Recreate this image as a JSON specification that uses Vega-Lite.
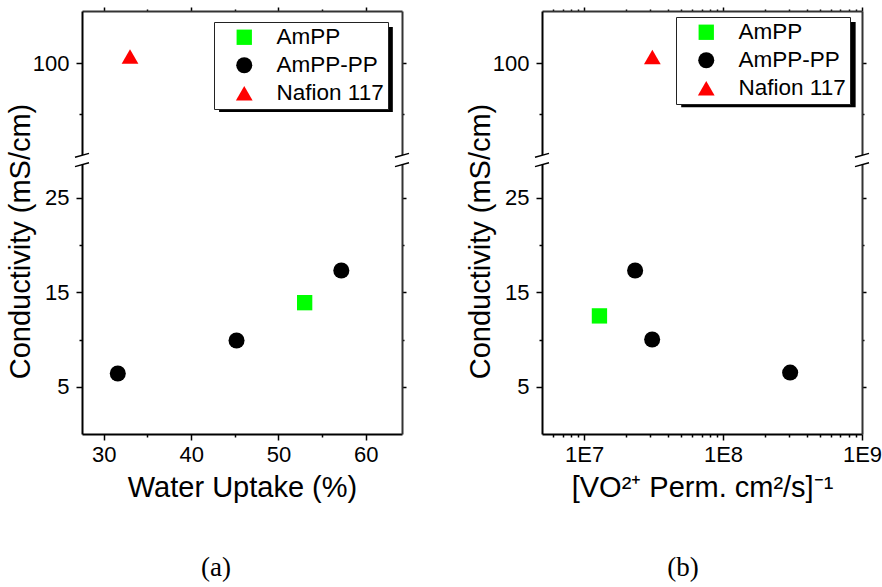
{
  "$schema": "https://vega.github.io/schema/vega-lite/v6.json",
  "background": "white",
  "padding": {"left": 6, "top": 6, "right": 2, "bottom": 3},
  "spacing": 54,
  "config": {
    "view": {"stroke": null},
    "axis": {
      "grid": false, "domainColor": "black", "domainWidth": 2, "tickColor": "black", "tickWidth": 1.5,
      "labelFont": "Liberation Sans", "labelFontSize": 22, "labelColor": "black",
      "titleFont": "Liberation Sans", "titleFontSize": 29, "titleFontWeight": "normal", "titleColor": "black",
      "labelFlush": false, "labelOverlap": false, "zindex": 0
    },
    "legend": {"strokeWidth": 1}
  },
  "resolve": {
    "scale": {"color": "independent", "shape": "independent", "size": "independent"},
    "legend": {"color": "independent", "shape": "independent", "size": "independent"}
  },
  "hconcat": [
    {
      "width": 320, "height": 423,
      "title": {"text": "(a)", "orient": "bottom", "font": "Liberation Serif", "fontSize": 27, "fontWeight": "normal", "color": "black", "offset": 53, "dx": -26},
      "resolve": {"axis": {"x": "independent", "y": "independent"}},
      "layer": [
        {
          "data": {"values": [{}]},
          "mark": {"type": "rect", "color": "black"},
          "encoding": {
            "x": {"datum": 43.2, "type": "quantitative", "scale": {"domain": [27.5, 64.15], "nice": false, "zero": false}, "axis": null},
            "x2": {"datum": 63.1},
            "y": {"datum": 117.7, "type": "quantitative", "scale": {"domain": [0, 29, 52.5, 125.5], "range": [423, 149, 149, 0], "nice": false, "zero": false}, "axis": null},
            "y2": {"datum": 76.0}
          }
        },
        {
          "data": {"values": [
            {"uptake": 53.0, "cond": 13.9, "sample": "AmPP"},
            {"uptake": 31.6, "cond": 6.4, "sample": "AmPP-PP"},
            {"uptake": 45.2, "cond": 9.9, "sample": "AmPP-PP"},
            {"uptake": 57.2, "cond": 17.3, "sample": "AmPP-PP"},
            {"uptake": 33.0, "cond": 103.2, "sample": "Nafion 117"}
          ]},
          "mark": {"type": "point", "filled": true, "opacity": 1},
          "encoding": {
            "x": {"field": "uptake", "type": "quantitative", "scale": {"domain": [27.5, 64.15], "nice": false, "zero": false},
              "axis": {"orient": "bottom", "title": "Water Uptake (%)", "values": [30, 35, 40, 45, 50, 55, 60],
                "labelExpr": "datum.value % 10 == 0 ? datum.label : ''",
                "tickSize": {"condition": {"test": "datum.value % 10 != 0", "value": 3}, "value": 6},
                "labelPadding": 4, "titlePadding": 8}},
            "y": {"field": "cond", "type": "quantitative", "scale": {"domain": [0, 29, 52.5, 125.5], "range": [423, 149, 149, 0], "nice": false, "zero": false},
              "axis": {"orient": "left", "title": "Conductivity (mS/cm)", "values": [5, 10, 15, 20, 25, 75, 100],
                "labelExpr": "indexof([5, 15, 25, 100], datum.value) >= 0 ? datum.label : ''",
                "tickSize": {"condition": {"test": "indexof([10, 20, 75], datum.value) >= 0", "value": 3}, "value": 6},
                "labelPadding": 7, "titlePadding": -3, "titleY": 230}},
            "color": {"field": "sample", "type": "nominal",
              "scale": {"domain": ["AmPP", "AmPP-PP", "Nafion 117"], "range": ["#00ff00", "#000000", "#ff0000"]},
              "legend": {"orient": "none", "legendX": 132, "legendY": 11, "title": null, "fillColor": "white", "strokeColor": "#222222",
                "padding": 4, "labelFont": "Liberation Sans", "labelFontSize": 22.5, "labelColor": "black", "rowPadding": 5,
                "symbolOffset": 15, "labelOffset": 21, "symbolStrokeWidth": 0, "symbolOpacity": 1}},
            "shape": {"field": "sample", "type": "nominal",
              "scale": {"domain": ["AmPP", "AmPP-PP", "Nafion 117"], "range": ["square", "circle", "triangle-up"]}},
            "size": {"field": "sample", "type": "nominal",
              "scale": {"domain": ["AmPP", "AmPP-PP", "Nafion 117"], "range": [235, 280, 375]}}
          }
        },
        {
          "data": {"values": [{}]},
          "mark": {"type": "point", "shape": "M-0.3,-0.58L0.3,-0.75L0.3,0.58L-0.3,0.75Z", "filled": true, "color": "white", "opacity": 1, "size": 196},
          "encoding": {
            "x": {"datum": 27.5, "type": "quantitative", "scale": {"domain": [27.5, 64.15], "nice": false, "zero": false}, "axis": null},
            "y": {"datum": 40, "type": "quantitative", "scale": {"domain": [0, 29, 52.5, 125.5], "range": [423, 149, 149, 0], "nice": false, "zero": false}, "axis": null}
          }
        },
        {
          "data": {"values": [{}]},
          "mark": {"type": "point", "shape": "M-0.3,-0.58L0.3,-0.75L0.3,0.58L-0.3,0.75Z", "filled": true, "color": "white", "opacity": 1, "size": 196},
          "encoding": {
            "x": {"datum": 64.15, "type": "quantitative", "scale": {"domain": [27.5, 64.15], "nice": false, "zero": false}, "axis": null},
            "y": {"datum": 40, "type": "quantitative", "scale": {"domain": [0, 29, 52.5, 125.5], "range": [423, 149, 149, 0], "nice": false, "zero": false}, "axis": null}
          }
        },
        {
          "data": {"values": [{}]},
          "mark": {"type": "point", "shape": "M-1,-0.38L1,-0.95M-1,0.95L1,0.38", "filled": false, "color": "black", "strokeWidth": 1.5, "opacity": 1, "size": 196},
          "encoding": {
            "x": {"datum": 27.5, "type": "quantitative", "scale": {"domain": [27.5, 64.15], "nice": false, "zero": false}, "axis": null},
            "y": {"datum": 40, "type": "quantitative", "scale": {"domain": [0, 29, 52.5, 125.5], "range": [423, 149, 149, 0], "nice": false, "zero": false}, "axis": null}
          }
        },
        {
          "data": {"values": [{}]},
          "mark": {"type": "point", "shape": "M-1,-0.38L1,-0.95M-1,0.95L1,0.38", "filled": false, "color": "black", "strokeWidth": 1.5, "opacity": 1, "size": 196},
          "encoding": {
            "x": {"datum": 64.15, "type": "quantitative", "scale": {"domain": [27.5, 64.15], "nice": false, "zero": false},
              "axis": {"orient": "top", "title": null, "labels": false, "values": [30, 35, 40, 45, 50, 55, 60],
                "tickSize": {"condition": {"test": "datum.value % 10 != 0", "value": 2}, "value": 4}, "domainColor": "#333333"}},
            "y": {"datum": 40, "type": "quantitative", "scale": {"domain": [0, 29, 52.5, 125.5], "range": [423, 149, 149, 0], "nice": false, "zero": false},
              "axis": {"orient": "right", "title": null, "labels": false, "values": [5, 10, 15, 20, 25, 75, 100],
                "tickSize": {"condition": {"test": "indexof([10, 20, 75], datum.value) >= 0", "value": 2}, "value": 4}, "domainColor": "#333333"}}
          }
        }
      ]
    },
    {
      "width": 320, "height": 423,
      "title": {"text": "(b)", "orient": "bottom", "font": "Liberation Serif", "fontSize": 27, "fontWeight": "normal", "color": "black", "offset": 53, "dx": -19},
      "resolve": {"axis": {"x": "independent", "y": "independent"}},
      "layer": [
        {
          "data": {"values": [{}]},
          "mark": {"type": "rect", "color": "black"},
          "encoding": {
            "x": {"datum": 50000000, "type": "quantitative", "scale": {"type": "log", "domain": [4980000, 1000000000], "nice": false}, "axis": null},
            "x2": {"datum": 900000000},
            "y": {"datum": 120.1, "type": "quantitative", "scale": {"domain": [0, 29, 52.5, 125.5], "range": [423, 149, 149, 0], "nice": false, "zero": false}, "axis": null},
            "y2": {"datum": 78.4}
          }
        },
        {
          "data": {"values": [
            {"perm": 12900000, "cond": 12.5, "sample": "AmPP"},
            {"perm": 23300000, "cond": 17.3, "sample": "AmPP-PP"},
            {"perm": 30900000, "cond": 10.0, "sample": "AmPP-PP"},
            {"perm": 304000000, "cond": 6.5, "sample": "AmPP-PP"},
            {"perm": 31000000, "cond": 103.0, "sample": "Nafion 117"}
          ]},
          "mark": {"type": "point", "filled": true, "opacity": 1},
          "encoding": {
            "x": {"field": "perm", "type": "quantitative", "scale": {"type": "log", "domain": [4980000, 1000000000], "nice": false},
              "axis": {"orient": "bottom", "title": "[VO²⁺ Perm. cm²/s]⁻¹",
                "values": [6000000, 7000000, 8000000, 9000000, 10000000, 20000000, 30000000, 40000000, 50000000, 60000000, 70000000, 80000000, 90000000, 100000000, 200000000, 300000000, 400000000, 500000000, 600000000, 700000000, 800000000, 900000000, 1000000000],
                "labelExpr": "datum.value == 10000000 ? '1E7' : datum.value == 100000000 ? '1E8' : datum.value == 1000000000 ? '1E9' : ''",
                "tickSize": {"condition": {"test": "indexof([10000000, 100000000, 1000000000], datum.value) < 0", "value": 3}, "value": 6},
                "labelPadding": 4, "titlePadding": 8}},
            "y": {"field": "cond", "type": "quantitative", "scale": {"domain": [0, 29, 52.5, 125.5], "range": [423, 149, 149, 0], "nice": false, "zero": false},
              "axis": {"orient": "left", "title": "Conductivity (mS/cm)", "values": [5, 10, 15, 20, 25, 75, 100],
                "labelExpr": "indexof([5, 15, 25, 100], datum.value) >= 0 ? datum.label : ''",
                "tickSize": {"condition": {"test": "indexof([10, 20, 75], datum.value) >= 0", "value": 3}, "value": 6},
                "labelPadding": 7, "titlePadding": -3, "titleY": 230}},
            "color": {"field": "sample", "type": "nominal",
              "scale": {"domain": ["AmPP", "AmPP-PP", "Nafion 117"], "range": ["#00ff00", "#000000", "#ff0000"]},
              "legend": {"orient": "none", "legendX": 134, "legendY": 6, "title": null, "fillColor": "white", "strokeColor": "#222222",
                "padding": 4, "labelFont": "Liberation Sans", "labelFontSize": 22.5, "labelColor": "black", "rowPadding": 5,
                "symbolOffset": 15, "labelOffset": 21, "symbolStrokeWidth": 0, "symbolOpacity": 1}},
            "shape": {"field": "sample", "type": "nominal",
              "scale": {"domain": ["AmPP", "AmPP-PP", "Nafion 117"], "range": ["square", "circle", "triangle-up"]}},
            "size": {"field": "sample", "type": "nominal",
              "scale": {"domain": ["AmPP", "AmPP-PP", "Nafion 117"], "range": [235, 280, 375]}}
          }
        },
        {
          "data": {"values": [{}]},
          "mark": {"type": "point", "shape": "M-0.3,-0.58L0.3,-0.75L0.3,0.58L-0.3,0.75Z", "filled": true, "color": "white", "opacity": 1, "size": 196},
          "encoding": {
            "x": {"datum": 4980000, "type": "quantitative", "scale": {"type": "log", "domain": [4980000, 1000000000], "nice": false}, "axis": null},
            "y": {"datum": 40, "type": "quantitative", "scale": {"domain": [0, 29, 52.5, 125.5], "range": [423, 149, 149, 0], "nice": false, "zero": false}, "axis": null}
          }
        },
        {
          "data": {"values": [{}]},
          "mark": {"type": "point", "shape": "M-0.3,-0.58L0.3,-0.75L0.3,0.58L-0.3,0.75Z", "filled": true, "color": "white", "opacity": 1, "size": 196},
          "encoding": {
            "x": {"datum": 1000000000, "type": "quantitative", "scale": {"type": "log", "domain": [4980000, 1000000000], "nice": false}, "axis": null},
            "y": {"datum": 40, "type": "quantitative", "scale": {"domain": [0, 29, 52.5, 125.5], "range": [423, 149, 149, 0], "nice": false, "zero": false}, "axis": null}
          }
        },
        {
          "data": {"values": [{}]},
          "mark": {"type": "point", "shape": "M-1,-0.38L1,-0.95M-1,0.95L1,0.38", "filled": false, "color": "black", "strokeWidth": 1.5, "opacity": 1, "size": 196},
          "encoding": {
            "x": {"datum": 4980000, "type": "quantitative", "scale": {"type": "log", "domain": [4980000, 1000000000], "nice": false}, "axis": null},
            "y": {"datum": 40, "type": "quantitative", "scale": {"domain": [0, 29, 52.5, 125.5], "range": [423, 149, 149, 0], "nice": false, "zero": false}, "axis": null}
          }
        },
        {
          "data": {"values": [{}]},
          "mark": {"type": "point", "shape": "M-1,-0.38L1,-0.95M-1,0.95L1,0.38", "filled": false, "color": "black", "strokeWidth": 1.5, "opacity": 1, "size": 196},
          "encoding": {
            "x": {"datum": 1000000000, "type": "quantitative", "scale": {"type": "log", "domain": [4980000, 1000000000], "nice": false},
              "axis": {"orient": "top", "title": null, "labels": false,
                "values": [6000000, 7000000, 8000000, 9000000, 10000000, 20000000, 30000000, 40000000, 50000000, 60000000, 70000000, 80000000, 90000000, 100000000, 200000000, 300000000, 400000000, 500000000, 600000000, 700000000, 800000000, 900000000, 1000000000],
                "tickSize": {"condition": {"test": "indexof([10000000, 100000000, 1000000000], datum.value) < 0", "value": 2}, "value": 4}, "domainColor": "#333333"}},
            "y": {"datum": 40, "type": "quantitative", "scale": {"domain": [0, 29, 52.5, 125.5], "range": [423, 149, 149, 0], "nice": false, "zero": false},
              "axis": {"orient": "right", "title": null, "labels": false, "values": [5, 10, 15, 20, 25, 75, 100],
                "tickSize": {"condition": {"test": "indexof([10, 20, 75], datum.value) >= 0", "value": 2}, "value": 4}, "domainColor": "#333333"}}
          }
        }
      ]
    }
  ]
}
